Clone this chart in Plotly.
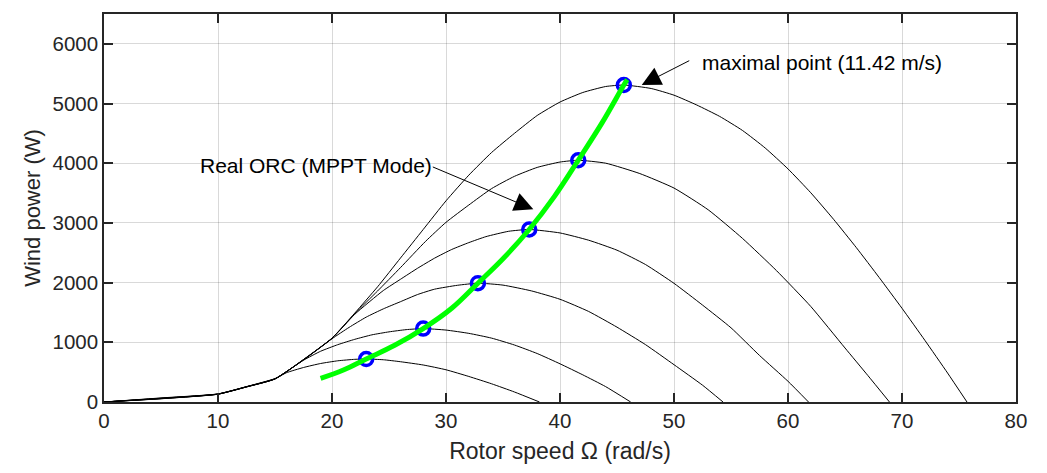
import plotly.graph_objects as go

# ---- data ----
omega_A = [0, 5, 10, 12.5, 15, 16, 17.5, 19, 20.5, 22, 23, 24.5, 26, 28, 30, 32, 34, 36, 38.2]
power_A = [0, 68, 136, 258, 392, 490, 578, 645, 690, 715, 720, 708, 675, 620, 540, 428, 305, 168, 0]

omega_B = [0, 5, 10, 12.5, 15, 17.5, 19, 20.5, 22, 23.5, 25, 26.5, 28, 30, 32, 34, 36, 38, 40, 42, 44, 46.2]
power_B = [0, 64, 134, 256, 390, 700, 850, 960, 1050, 1125, 1175, 1212, 1230, 1205, 1150, 1070, 955, 812, 640, 455, 258, 0]

omega_C = [0, 5, 10, 12.5, 15, 17.5, 20, 21.5, 23, 24.5, 26, 27.5, 29, 31, 32.8, 35, 37.5, 40, 42.5, 45, 47.5, 50, 52.5, 54.3]
power_C = [0, 61, 133, 255, 388, 705, 1060, 1250, 1422, 1560, 1680, 1800, 1890, 1955, 1990, 1958, 1861, 1721, 1518, 1254, 961, 625, 282, 0]

omega_D = [0, 5, 10, 12.5, 15, 17.5, 20, 22, 24.5, 26, 27.5, 29, 30.5, 32, 33.5, 35.5, 37.3, 40, 42.5, 45, 47.5, 50, 52.5, 55, 57.5, 60, 61.8]
power_D = [0, 58, 132, 254, 387, 708, 1065, 1470, 1867, 2055, 2240, 2410, 2555, 2670, 2770, 2860, 2890, 2832, 2711, 2543, 2303, 1988, 1624, 1243, 780, 347, 0]

omega_E = [0, 5, 10, 12.5, 15, 17.5, 20, 22, 24, 26, 28.2, 30, 32, 34, 36, 38, 40, 41.6, 44, 47, 50, 53, 56, 59, 62, 65, 67, 68.9]
power_E = [0, 56, 131, 253, 386, 710, 1068, 1480, 1860, 2250, 2690, 3010, 3300, 3575, 3780, 3930, 4020, 4050, 4001, 3827, 3584, 3220, 2742, 2199, 1600, 905, 445, 0]

omega_F = [0, 5, 10, 12.5, 15, 17.5, 20, 22, 24, 26, 28, 30, 32, 34, 36, 38, 40, 42, 44, 45.6, 48, 50, 52, 54, 56, 58, 60, 62, 64, 66, 68, 70, 72, 74, 75.7]
power_F = [0, 54, 130, 252, 385, 712, 1070, 1490, 1930, 2410, 2890, 3370, 3800, 4180, 4500, 4800, 5025, 5185, 5285, 5310, 5252, 5140, 4975, 4785, 4550, 4255, 3905, 3505, 3060, 2585, 2085, 1570, 1035, 485, 0]

orc_omega = [19.0, 21, 23, 25.5, 28, 30.5, 32.8, 35, 37.3, 39.5, 41.6, 43.7, 45.6, 45.9]
orc_power = [395, 535, 720, 950, 1230, 1570, 1990, 2400, 2890, 3440, 4050, 4680, 5310, 5400]

peak_omega = [23.0, 28.0, 32.8, 37.3, 41.6, 45.6]
peak_power = [720, 1230, 1990, 2890, 4050, 5310]

x_ticks = [0, 10, 20, 30, 40, 50, 60, 70, 80]
y_ticks = [0, 1000, 2000, 3000, 4000, 5000, 6000]

FONT = "Liberation Sans, Arial, sans-serif"
DARK = "#262626"

fig = go.Figure()
for om, pw in [(omega_A, power_A), (omega_B, power_B), (omega_C, power_C),
               (omega_D, power_D), (omega_E, power_E), (omega_F, power_F)]:
    fig.add_trace(go.Scatter(x=om, y=pw, mode="lines",
                             line=dict(color="black", width=1, shape="spline", smoothing=0.5),
                             showlegend=False))

fig.add_trace(go.Scatter(x=peak_omega, y=peak_power, mode="markers",
                         marker=dict(symbol="circle-open", size=13, color="#0000ff",
                                     line=dict(width=3.5, color="#0000ff")),
                         showlegend=False))
fig.add_trace(go.Scatter(x=orc_omega, y=orc_power, mode="lines",
                         line=dict(color="#00ff00", width=5, shape="spline"),
                         showlegend=False))

axis_common = dict(showline=True, linecolor=DARK, linewidth=1.5, mirror="ticks",
                   ticks="inside", ticklen=9, tickcolor=DARK, tickwidth=1.5,
                   showgrid=True, gridcolor="rgba(0,0,0,0.15)", gridwidth=1,
                   zeroline=False, tickfont=dict(family=FONT, size=20.5, color=DARK))

fig.update_xaxes(range=[0, 80], tickvals=x_ticks,
                 title=dict(text="Rotor speed Ω (rad/s)", font=dict(family=FONT, size=23, color=DARK),
                            standoff=12),
                 **axis_common)
fig.update_yaxes(range=[0, 6500], tickvals=y_ticks,
                 title=dict(text="Wind power (W)", font=dict(family=FONT, size=22, color=DARK),
                            standoff=6),
                 **axis_common)

# arrows
fig.add_annotation(x=47.17, y=5312, xref="x", yref="y", text="", showarrow=True,
                   ax=49, ay=-25, arrowhead=2, arrowsize=3.8, arrowwidth=1, arrowcolor="black")
fig.add_annotation(x=37.66, y=3228, xref="x", yref="y", text="", showarrow=True,
                   ax=-102, ay=-43, arrowhead=2, arrowsize=3.8, arrowwidth=1, arrowcolor="black")
# texts
fig.add_annotation(x=52.3, y=5683, xref="x", yref="y", text="maximal point (11.42 m/s)",
                   showarrow=False, xanchor="left", yanchor="middle",
                   font=dict(family=FONT, size=21, color="black"))
fig.add_annotation(x=8.25, y=3967, xref="x", yref="y", text="Real ORC (MPPT Mode)",
                   showarrow=False, xanchor="left", yanchor="middle",
                   font=dict(family=FONT, size=21, color="black"))

fig.update_layout(width=1047, height=473, margin=dict(l=104, r=31, t=12, b=71),
                  plot_bgcolor="white", paper_bgcolor="white",
                  font=dict(family=FONT, color=DARK))

fig.write_html("out.html")
